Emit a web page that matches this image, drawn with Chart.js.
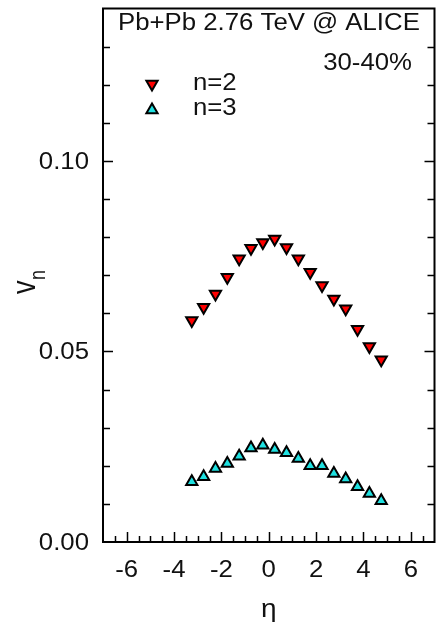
<!DOCTYPE html>
<html>
<head>
<meta charset="utf-8">
<script src="https://cdn.jsdelivr.net/npm/chart.js@4"></script>
<style>
  html, body { margin: 0; padding: 0; background: #fff; }
  #wrap { width: 443px; height: 632px; position: relative; }
</style>
</head>
<body>
<div id="wrap"><canvas id="c"></canvas></div>
<script>
'use strict';
// pseudorapidity bins (shared by both harmonics)
const eta = [-3.25, -2.75, -2.25, -1.75, -1.25, -0.75, -0.25, 0.25, 0.75, 1.25, 1.75, 2.25, 2.75, 3.25, 3.75, 4.25, 4.75];
const v2  = [0.0581, 0.0616, 0.0651, 0.0695, 0.0743, 0.0771, 0.0786, 0.0795, 0.0773, 0.0743, 0.0708, 0.0673, 0.0638, 0.0612, 0.0558, 0.0513, 0.0478];
const v3  = [0.0158, 0.0171, 0.0193, 0.0206, 0.0225, 0.0247, 0.0254, 0.0243, 0.0234, 0.0219, 0.0200, 0.0200, 0.0180, 0.0165, 0.0145, 0.0127, 0.0108];
const seriesLabels = ['n=2', 'n=3'];
const titleText = 'Pb+Pb 2.76 TeV @ ALICE';
const centText  = '30-40%';

const RED = '#ff0000', CYAN = '#1fe0e0';
const FONT = '"Liberation Sans", Arial, Helvetica, sans-serif';
const SX = 1.12; // text in the figure is a bit wide

function txt(ctx, s, x, y, align, size) {
  ctx.save();
  ctx.font = size + 'px ' + FONT;
  ctx.fillStyle = '#111';
  ctx.textAlign = align;
  ctx.textBaseline = 'alphabetic';
  ctx.translate(x, y);
  ctx.scale(SX, 1);
  ctx.fillText(s, 0, 0);
  ctx.restore();
}

function tri(ctx, x, y, r, down, fill) {
  const d = down ? -1 : 1;
  ctx.save();
  ctx.beginPath();
  ctx.moveTo(x, y - d * r);
  ctx.lineTo(x + r * 0.866, y + d * r / 2);
  ctx.lineTo(x - r * 0.866, y + d * r / 2);
  ctx.closePath();
  ctx.fillStyle = fill;
  ctx.fill();
  ctx.lineWidth = 2;
  ctx.strokeStyle = '#000';
  ctx.stroke();
  ctx.restore();
}

const framePlugin = {
  id: 'frame',
  afterDraw(chart) {
    const { ctx, chartArea: a, scales: { x, y } } = chart;
    ctx.save();
    ctx.strokeStyle = '#000';
    ctx.lineWidth = 1.5;
    // inner ticks
    ctx.beginPath();
    for (let i = 1; i < 14; i++) {
      const py = Math.round(y.getPixelForValue(i / 100)) + 0.5;
      const len = i % 5 === 0 ? 10 : 7;
      ctx.moveTo(a.left, py); ctx.lineTo(a.left + len, py);
      ctx.moveTo(a.right, py); ctx.lineTo(a.right - len, py);
    }
    for (let i = -13; i <= 13; i++) {
      const px = Math.round(x.getPixelForValue(i / 2)) + 0.5;
      const len = i % 4 === 0 ? 10 : 6;
      ctx.moveTo(px, a.bottom); ctx.lineTo(px, a.bottom - len);
    }
    ctx.stroke();
    ctx.lineWidth = 2;
    ctx.strokeRect(a.left, a.top, a.right - a.left, a.bottom - a.top);
    ctx.restore();

    // tick labels from the scales
    y.ticks.forEach(t => {
      if (Math.abs(t.value / 0.05 - Math.round(t.value / 0.05)) > 1e-6) return;
      txt(ctx, t.value.toFixed(2), 89, y.getPixelForValue(t.value) + 8, 'right', 23);
    });
    x.ticks.forEach(t => {
      if (Math.abs(t.value) % 2 !== 0 || Math.abs(t.value) > 6) return;
      txt(ctx, String(t.value), x.getPixelForValue(t.value), 577, 'center', 23);
    });

    // axis titles
    txt(ctx, 'η', x.getPixelForValue(0), 617, 'center', 25);
    ctx.save();
    ctx.fillStyle = '#111';
    ctx.translate(35, 294);
    ctx.rotate(-Math.PI / 2);
    ctx.scale(1, 1.2);
    ctx.font = '27px ' + FONT;
    ctx.textBaseline = 'alphabetic';
    ctx.fillText('v', 0, 0);
    ctx.font = '18px ' + FONT;
    ctx.fillText('n', 14, 8);
    ctx.restore();

    // labels and legend
    txt(ctx, titleText, 118, 30, 'left', 23);
    txt(ctx, centText, 412, 70, 'right', 23);
    tri(ctx, 152, 84, 6.5, true, RED);
    tri(ctx, 152, 110, 6.5, false, CYAN);
    txt(ctx, seriesLabels[0], 193, 90, 'left', 23);
    txt(ctx, seriesLabels[1], 193, 115, 'left', 23);
  }
};

new Chart(document.getElementById('c'), {
  type: 'scatter',
  data: {
    datasets: [
      {
        label: seriesLabels[0],
        data: eta.map((e, i) => ({ x: e, y: v2[i] })),
        pointStyle: 'triangle', pointRotation: 180, pointRadius: 6.5,
        backgroundColor: RED, borderColor: '#000', borderWidth: 2,
      },
      {
        label: seriesLabels[1],
        data: eta.map((e, i) => ({ x: e, y: v3[i] })),
        pointStyle: 'triangle', pointRadius: 6.5,
        backgroundColor: CYAN, borderColor: '#000', borderWidth: 2,
      },
    ],
  },
  options: {
    responsive: true, maintainAspectRatio: false,
    animation: false,
    layout: { padding: { top: 8, right: 4, left: 0, bottom: 0 } },
    plugins: { legend: { display: false }, tooltip: { enabled: false } },
    scales: {
      x: {
        type: 'linear', min: -7, max: 7,
        ticks: { stepSize: 1, display: false },
        grid: { display: false }, border: { display: false },
        afterFit(s) { s.height = 90; },
      },
      y: {
        min: 0, max: 0.14,
        ticks: { stepSize: 0.05, display: false },
        grid: { display: false }, border: { display: false },
        afterFit(s) { s.width = 103; },
      },
    },
  },
  plugins: [framePlugin],
});
</script>
</body>
</html>
